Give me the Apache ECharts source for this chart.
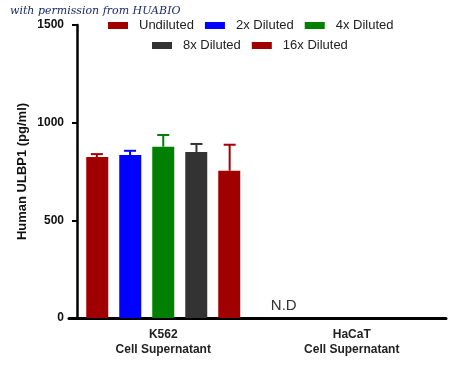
<!DOCTYPE html>
<html><head><meta charset="utf-8">
<script src="https://cdn.jsdelivr.net/npm/echarts@6/dist/echarts.min.js"></script>
<style>html,body{margin:0;padding:0;background:#fff}#c{width:450px;height:370px}</style>
</head><body><div id="c"></div>
<script>
const categories = ['K562\nCell Supernatant', 'HaCaT\nCell Supernatant'];
const seriesNames = ['Undiluted', '2x Diluted', '4x Diluted', '8x Diluted', '16x Diluted'];
const undiluted = [824, null];
const diluted2x = [834, null];
const diluted4x = [877, null];
const diluted8x = [850, null];
const diluted16x = [754, null];
const errUndiluted = [15, null];
const err2x = [22, null];
const err4x = [60, null];
const err8x = [41, null];
const err16x = [133, null];
const ndLabel = 'N.D';
const yTicks = [0, 500, 1000, 1500];

const colors = ['#A00000', '#0000FF', '#008000', '#333333', '#A00000'];
const values = [undiluted, diluted2x, diluted4x, diluted8x, diluted16x];
const errs = [errUndiluted, err2x, err4x, err8x, err16x];
const BAR_W = 22, STEP = 33.2;

const chart = echarts.init(document.getElementById('c'), null, {renderer: 'canvas'});
const series = [];
values.forEach((v, i) => {
  const data = v.map((d, j) => {
    if (i === 0 && d === null) {
      return {value: 0, label: {show: true, formatter: ndLabel, position: 'top', distance: 5,
        color: '#333', fontSize: 15, fontFamily: 'Arial, Liberation Sans, sans-serif', offset: [-2, 0]}};
    }
    return d;
  });
  series.push({
    name: seriesNames[i], type: 'bar', data: data, barWidth: BAR_W, barGap: '50%',
    itemStyle: {color: colors[i]}, animation: false
  });
});
values.forEach((v, i) => {
  const data = v.map((d, j) => d === null ? null : [j, d, d + errs[i][j]]).filter(x => x);
  series.push({
    type: 'custom', name: seriesNames[i] + ' err', data: data, z: 1, silent: true, animation: false,
    renderItem: function (params, api) {
      const base = api.coord([api.value(0), api.value(1)]);
      const top = api.coord([api.value(0), api.value(2)]);
      const x = base[0] + (i - 2) * STEP;
      const half = 6;
      return {type: 'group', children: [
        {type: 'line', shape: {x1: x, y1: base[1], x2: x, y2: top[1]}, style: {stroke: colors[i], lineWidth: 2}},
        {type: 'line', shape: {x1: x - half, y1: top[1], x2: x + half, y2: top[1]}, style: {stroke: colors[i], lineWidth: 2}}
      ]};
    }
  });
});

const legendText = {color: '#222', fontSize: 13, fontFamily: 'Arial, Liberation Sans, sans-serif', padding: [0, 0, 0, 6]};
chart.setOption({
  animation: false,
  grid: {left: 69, right: 4, top: 25, bottom: 52, containLabel: false},
  legend: [
    {data: seriesNames.slice(0, 3), left: 108, top: 19, itemWidth: 20, itemHeight: 7, itemGap: 11,
      icon: 'rect', textStyle: legendText, padding: 0},
    {data: seriesNames.slice(3), left: 152, top: 39, itemWidth: 20, itemHeight: 7, itemGap: 11,
      icon: 'rect', textStyle: legendText, padding: 0}
  ],
  graphic: [{type: 'text', left: 10, top: 6, style: {text: 'with permission from HUABIO', fill: '#1a2a6c',
    font: 'italic 11px "DejaVu Serif", serif'}}],
  xAxis: {
    type: 'category', data: categories,
    axisLine: {lineStyle: {color: '#000', width: 3}},
    axisTick: {alignWithLabel: true, length: 5, lineStyle: {color: '#000', width: 2}},
    axisLabel: {color: '#222', fontSize: 12, fontWeight: 'bold', lineHeight: 15, margin: 9,
      fontFamily: 'Arial, Liberation Sans, sans-serif'}
  },
  yAxis: {
    type: 'value', min: yTicks[0], max: yTicks[yTicks.length - 1], interval: 500, offset: -8,
    name: 'Human ULBP1 (pg/ml)', nameLocation: 'middle', nameGap: 48, nameMoveOverlap: false,
    nameTextStyle: {color: '#111', fontSize: 13, fontWeight: 'bold', fontFamily: 'Arial, Liberation Sans, sans-serif'},
    axisLine: {show: true, lineStyle: {color: '#000', width: 2.5}},
    axisTick: {show: true, length: 5, lineStyle: {color: '#000', width: 2}},
    axisLabel: {color: '#111', fontSize: 12, fontWeight: 'bold', margin: 13, formatter: v => String(v),
      fontFamily: 'Arial, Liberation Sans, sans-serif'},
    splitLine: {show: false}
  },
  series: series
});
</script></body></html>
